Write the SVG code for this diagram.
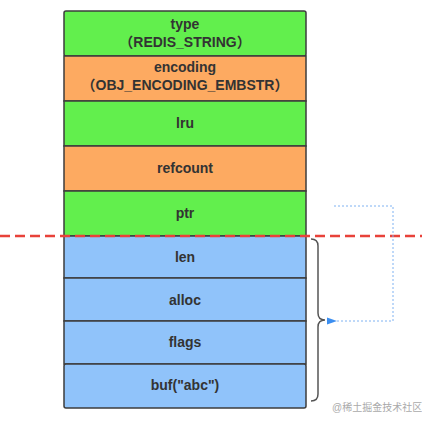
<svg xmlns="http://www.w3.org/2000/svg" width="422" height="423" viewBox="0 0 422 423">
<style>
.g{fill:#62ef4d;stroke:#3d3d3d;stroke-width:1.5}
.o{fill:#fdaa61;stroke:#3d3d3d;stroke-width:1.5}
.b{fill:#90c3fa;stroke:#3d3d3d;stroke-width:1.5}
text{font-family:"Liberation Sans","Noto Sans CJK SC",sans-serif;font-size:14px;font-weight:bold;fill:#333;text-anchor:middle}
.wm{font-size:10px;font-weight:normal;fill:#aaa;text-anchor:start}
</style>
<defs>
<marker id="ah" markerWidth="10" markerHeight="8" refX="1" refY="4" orient="auto" markerUnits="userSpaceOnUse">
<path d="M10,0.5 L0,4 L10,7.5 Z" fill="#3b8ef0"/>
</marker>
</defs>
<g id="type"><rect class="g" x="64" y="11" width="242" height="45" rx="2"/><text x="185" y="29">type</text><text x="185" y="47">（REDIS_STRING）</text></g>
<g id="encoding"><rect class="o" x="64" y="56" width="242" height="45"/><text x="185" y="72">encoding</text><text x="185" y="90">（OBJ_ENCODING_EMBSTR）</text></g>
<g id="lru"><rect class="g" x="64" y="101" width="242" height="45"/><text x="185" y="128">lru</text></g>
<g id="refcount"><rect class="o" x="64" y="146" width="242" height="45"/><text x="185" y="173">refcount</text></g>
<g id="ptr"><rect class="g" x="64" y="191" width="242" height="45"/><text x="185" y="218">ptr</text></g>
<g id="len"><rect class="b" x="64" y="236" width="242" height="42"/><text x="185" y="262">len</text></g>
<g id="alloc"><rect class="b" x="64" y="278" width="242" height="43"/><text x="185" y="305">alloc</text></g>
<g id="flags"><rect class="b" x="64" y="321" width="242" height="43"/><text x="185" y="347">flags</text></g>
<g id="buf"><rect class="b" x="64" y="364" width="242" height="44" rx="2"/><text x="185" y="390">buf("abc")</text></g>
<g id="connectors">
<line x1="0" y1="236" x2="422" y2="236" stroke="#e8423a" stroke-width="2.5" stroke-dasharray="10,5"/>
<path d="M311,239 Q318,239 318,246 L318,313 Q318,320 325,320 Q318,320 318,327 L318,394 Q318,401 311,401" fill="none" stroke="#555" stroke-width="1.5"/>
<path d="M334,206 L393,206 L393,321 L336,321" fill="none" stroke="#7fb2f2" stroke-width="1" stroke-dasharray="2,2" marker-end="url(#ah)"/>
</g>
<text class="wm" x="332" y="411">@稀土掘金技术社区</text>
</svg>
